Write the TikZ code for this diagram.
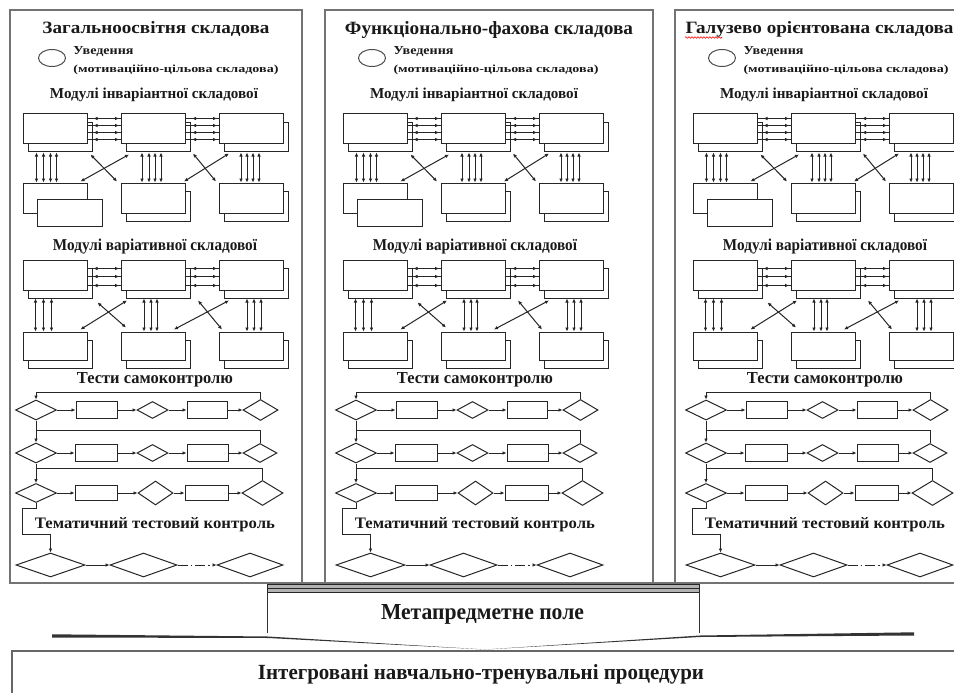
\documentclass[tikz,border=0pt]{standalone}
\usepackage{fontspec}
\setmainfont{Liberation Serif}
\usetikzlibrary{shapes.geometric,shadows,arrows.meta,calc,decorations.pathmorphing}
\newcommand\fbx[3]{\resizebox{#1pt}{#2pt}{\bfseries #3}}
\begin{document}
\begin{tikzpicture}[x=1pt,y=-1pt, line width=1pt, draw=black!85,
  >={Latex[length=4pt,width=3.6pt]},
  mod/.style={draw=black!85, fill=white, inner sep=0pt, minimum width=64pt, minimum height=29pt},
  modsh/.style={mod, copy shadow={shadow xshift=5pt, shadow yshift=-8pt}},
  dia/.style={draw=black!85, fill=white, diamond, inner sep=0pt},
  tbox/.style={draw=black!85, fill=white, rectangle, inner sep=0pt},
  lbl/.style={inner sep=0pt, anchor=base, text=black!90},
  panel/.style={draw=black!55, line width=1.8pt},
]
\useasboundingbox (0,0) rectangle (954,693);
\fill[white] (0,0) rectangle (954,693);
\clip (0,0) rectangle (954,693);

% panels
\draw[panel] (10,10) rectangle (302,583);
\draw[panel] (325,10) rectangle (653,583);
\draw[panel] (675,10) rectangle (990,583);

% titles
\node[lbl] (t1) at (156,34) {\fbx{227}{12}{Загальноосвітня складова}};
\node[lbl] (t2) at (489,35) {\fbx{288}{13}{Функціонально-фахова складова}};
\node[lbl, anchor=base west] (t3) at (685,34) {\fbx{268}{12}{Галузево орієнтована складова}};
\draw[red, line width=0.6pt, decorate, decoration={snake, amplitude=0.8pt, segment length=3pt}] (685,37.5) -- (722,37.5);

\foreach \ox/\s in {0/a,320/b,670/c}{
\begin{scope}[xshift=\ox pt]
  % introduction
  \node[draw=black!70, ellipse, inner sep=0pt, minimum width=27pt, minimum height=17pt] (ell\s) at (52,58) {};
  \node[lbl, anchor=base west] (uv\s) at (73,55) {\fbx{60}{8}{Уведення}};
  \node[lbl, anchor=base west] (mot\s) at (73,73) {\fbx{205}{7.5}{(мотиваційно-цільова складова)}};
  \node[lbl] (inv\s) at (154,99) {\fbx{208}{10.5}{Модулі інваріантної складової}};

  % invariant modules
  \node[modsh] (A1\s) at (55,128.5) {};
  \node[modsh] (A2\s) at (153.5,128.5) {};
  \node[modsh] (A3\s) at (251.5,128.5) {};
  \node[mod, minimum height=30pt] (B1\s) at (55,198) {};
  \node[mod, minimum width=65pt, minimum height=27pt] (Bx\s) at (69.5,212.5) {};
  \node[modsh, minimum height=30pt] (B2\s) at (153.5,198) {};
  \node[modsh, minimum height=30pt] (B3\s) at (251.5,198) {};

  \foreach \dy in {5,12,19,26}{
    \draw ([yshift=-\dy pt]A1\s.north east) -- ([yshift=-\dy pt]A2\s.north west);
    \draw[<->, shorten <=6pt, shorten >=2pt] ([yshift=-\dy pt]A1\s.north east) -- ([yshift=-\dy pt]A2\s.north west);
    \draw ([yshift=-\dy pt]A2\s.north east) -- ([yshift=-\dy pt]A3\s.north west);
    \draw[<->, shorten <=6pt, shorten >=2pt] ([yshift=-\dy pt]A2\s.north east) -- ([yshift=-\dy pt]A3\s.north west);
  }
  \foreach \dx in {14,21,28,34}
    \draw[<->] ([xshift=\dx pt,yshift=-9pt]A1\s.south west) -- ([xshift=\dx pt]B1\s.north west);
  \foreach \dx in {21,28,34,40}
    \draw[<->] ([xshift=\dx pt,yshift=-9pt]A2\s.south west) -- ([xshift=\dx pt]B2\s.north west);
  \foreach \dx in {22,28,34,40}
    \draw[<->] ([xshift=\dx pt,yshift=-9pt]A3\s.south west) -- ([xshift=\dx pt]B3\s.north west);
  \draw[<->] ([xshift=3pt,yshift=-11pt]A1\s.south east) -- ([xshift=-4pt,yshift=1pt]B2\s.north west);
  \draw[<->] ([xshift=8pt,yshift=-11pt]A2\s.south west) -- ([xshift=-7pt,yshift=1pt]B1\s.north east);
  \draw[<->] ([xshift=7pt,yshift=-10pt]A2\s.south east) -- ([xshift=-3pt,yshift=1pt]B3\s.north west);
  \draw[<->] ([xshift=10pt,yshift=-10pt]A3\s.south west) -- ([xshift=-2pt,yshift=1pt]B2\s.north east);

  % variant modules
  \node[lbl] (var\s) at (155,250) {\fbx{204}{11.5}{Модулі варіативної складової}};
  \node[modsh, minimum height=30pt] (C1\s) at (55,275) {};
  \node[modsh, minimum height=30pt] (C2\s) at (153.5,275) {};
  \node[modsh, minimum height=30pt] (C3\s) at (251.5,275) {};
  \node[modsh, minimum height=28pt] (D1\s) at (55,346) {};
  \node[modsh, minimum height=28pt] (D2\s) at (153.5,346) {};
  \node[modsh, minimum height=28pt] (D3\s) at (251.5,346) {};
  \foreach \dy in {9,17,26}{
    \draw ([yshift=-\dy pt]C1\s.north east) -- ([yshift=-\dy pt]C2\s.north west);
    \draw[<->, shorten <=6pt, shorten >=2pt] ([yshift=-\dy pt]C1\s.north east) -- ([yshift=-\dy pt]C2\s.north west);
    \draw ([yshift=-\dy pt]C2\s.north east) -- ([yshift=-\dy pt]C3\s.north west);
    \draw[<->, shorten <=6pt, shorten >=2pt] ([yshift=-\dy pt]C2\s.north east) -- ([yshift=-\dy pt]C3\s.north west);
  }
  \foreach \dx in {13,21,29}
    \draw[<->] ([xshift=\dx pt,yshift=-8pt]C1\s.south west) -- ([xshift=\dx pt]D1\s.north west);
  \foreach \dx in {23,30,36}
    \draw[<->] ([xshift=\dx pt,yshift=-8pt]C2\s.south west) -- ([xshift=\dx pt]D2\s.north west);
  \foreach \dx in {28,35,42}
    \draw[<->] ([xshift=\dx pt,yshift=-8pt]C3\s.south west) -- ([xshift=\dx pt]D3\s.north west);
  \draw[<->] ([xshift=10pt,yshift=-12pt]C1\s.south east) -- ([xshift=5pt,yshift=4pt]D2\s.north west);
  \draw[<->] ([xshift=6pt,yshift=-10pt]C2\s.south west) -- ([xshift=-7pt,yshift=2pt]D1\s.north east);
  \draw[<->] ([xshift=12pt,yshift=-10pt]C2\s.south east) -- ([xshift=3pt,yshift=2pt]D3\s.north west);
  \draw[<->] ([xshift=10pt,yshift=-10pt]C3\s.south west) -- ([xshift=-12pt,yshift=2pt]D2\s.north east);

  % self-control tests
  \node[lbl] (tst\s) at (155,383) {\fbx{156}{11}{Тести самоконтролю}};
  \node[dia, minimum width=41pt, minimum height=20pt] (d11\s) at (36,410) {};
  \node[tbox, minimum width=41pt, minimum height=17pt] (r11\s) at (96.5,410) {};
  \node[dia, minimum width=31pt, minimum height=17pt] (d12\s) at (152.5,410) {};
  \node[tbox, minimum width=40pt, minimum height=17pt] (r12\s) at (207,410) {};
  \node[dia, minimum width=35pt, minimum height=21pt] (d13\s) at (260.5,410) {};

  \node[dia, minimum width=41pt, minimum height=20pt] (d21\s) at (36,453) {};
  \node[tbox, minimum width=42pt, minimum height=17pt] (r21\s) at (96,453) {};
  \node[dia, minimum width=31pt, minimum height=17pt] (d22\s) at (152.5,453) {};
  \node[tbox, minimum width=41pt, minimum height=17pt] (r22\s) at (207.5,453) {};
  \node[dia, minimum width=34pt, minimum height=19pt] (d23\s) at (260,453) {};

  \node[dia, minimum width=41pt, minimum height=19pt] (d31\s) at (36,493) {};
  \node[tbox, minimum width=42pt, minimum height=15pt] (r31\s) at (96,493) {};
  \node[dia, minimum width=35pt, minimum height=24pt] (d32\s) at (155.5,493) {};
  \node[tbox, minimum width=43pt, minimum height=15pt] (r32\s) at (206.5,493) {};
  \node[dia, minimum width=41pt, minimum height=25pt] (d33\s) at (262.5,493) {};

  \foreach \r in {1,2,3}{
    \draw[->] (d\r1\s.east) -- (r\r1\s.west);
    \draw[->] (r\r1\s.east) -- (d\r2\s.west);
    \draw[->] (d\r2\s.east) -- (r\r2\s.west);
    \draw[->] (r\r2\s.east) -- (d\r3\s.west);
  }
  \draw[->] (d13\s.north) |- ([yshift=7pt]d11\s.north) -- (d11\s.north);
  \draw[->] (d11\s.south) -- (d21\s.north);
  \draw (d23\s.north) |- ($(d11\s.south)!0.45!(d21\s.north)$);
  \draw[->] (d21\s.south) -- (d31\s.north);
  \draw (d33\s.north) |- ($(d21\s.south)!0.25!(d31\s.north)$);

  % thematic test control
  \node[lbl] (thm\s) at (155,528) {\fbx{240}{11}{Тематичний тестовий контроль}};
  \node[dia, minimum width=69pt, minimum height=24pt] (e1\s) at (50.5,565) {};
  \node[dia, minimum width=67pt, minimum height=24pt] (e2\s) at (143.5,565) {};
  \node[dia, minimum width=66pt, minimum height=24pt] (e3\s) at (250,565) {};
  \draw[->] (d31\s.south) -- ++(0,5) -- ++(-14,0) -- ++(0,26) -| (e1\s.north);
  \draw[->] (e1\s.east) -- (e2\s.west);
  \draw[->, dash pattern=on 10pt off 3pt on 1.5pt off 3pt] (e2\s.east) -- (e3\s.west);
\end{scope}
}

% bottom line of panels
\draw[black!55, line width=1.4pt] (10,583) -- (954,583);

% meta-subject field
\draw[fill=black!30, line width=0.9pt] (267,584) rectangle (699,592);
\draw[line width=0.7pt] (267,588) -- (699,588);
\draw[black!80] (267,592) -- (267,633);
\draw[black!80] (699,592) -- (699,633);
\node[lbl] (meta) at (482.5,619) {\fbx{203}{15}{Метапредметне поле}};
\fill[black!80] (52,634.3) -- (268,636.5) -- (485,649.5) -- (268,638) -- (52,637.5) -- cycle;
\fill[black!80] (914,632.3) -- (700,635.5) -- (485,649.5) -- (700,637) -- (914,635.5) -- cycle;

% integrated procedures
\draw[black!60, line width=1.6pt] (12,651) rectangle (980,720);
\node[lbl] (integ) at (481,679) {\fbx{446}{15}{Інтегровані навчально-тренувальні процедури}};
\end{tikzpicture}
\end{document}
